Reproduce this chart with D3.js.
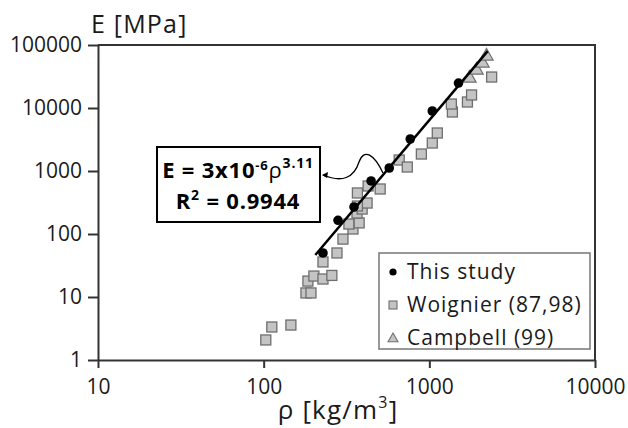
<!DOCTYPE html>
<html>
<head>
<meta charset="utf-8">
<script src="https://cdn.jsdelivr.net/npm/d3@7"></script>
<style>
  html, body { margin: 0; padding: 0; background: #fff; }
  svg { display: block; font-family: "Open Sans", "Liberation Sans", sans-serif; }
</style>
</head>
<body>
<svg id="chart" width="628" height="428"></svg>
<script>
// Young's modulus vs. density (log-log)
const thisStudyDensity = [228, 281, 351, 445, 573, 767, 1042, 1500];
const thisStudyModulus = [50, 165, 269, 695, 1116, 3220, 8960, 24900];

const woignierDensity = [103, 112, 146, 180, 193, 185, 201, 228, 258, 228, 277, 301,
  346, 327, 377, 366, 393, 421, 368, 368, 427, 505, 658, 736, 895, 1042, 1117, 1378, 1358, 1698, 1798, 2377];
const woignierModulus = [2.08, 3.34, 3.59, 11.6, 11.6, 17.9, 21.5, 19.3, 22, 36, 50, 83,
  120, 144, 150, 215, 249, 310, 278, 448, 578, 518, 1495, 1157, 1860, 2780, 4010, 8640, 11560, 12450, 16100, 31000];

const campbellDensity = [1748, 1928, 2094, 2214];
const campbellModulus = [31000, 41600, 53700, 69300];

// Power-law fit E = a * rho^b
const fitA = 3e-6, fitB = 3.11, fitR2 = 0.9944;
const fitRange = [205, 2250];

const xTicks = [10, 100, 1000, 10000];
const yTicks = [1, 10, 100, 1000, 10000, 100000];

const legendLabels = ["This study", "Woignier (87,98)", "Campbell (99)"];

const svg = d3.select("#chart");
const plot = { left: 98, right: 595, top: 45, bottom: 360 };

const x = d3.scaleLog().domain([10, 10000]).range([plot.left, plot.right]);
const y = d3.scaleLog().domain([1, 100000]).range([plot.bottom, plot.top]);

const axisColor = "#333";
const textColor = "#1a1a1a";

// frame (top and right edges)
svg.append("path")
  .attr("d", `M${plot.left},${plot.top}H${plot.right}V${plot.bottom}`)
  .attr("fill", "none").attr("stroke", axisColor).attr("stroke-width", 2);

// axes
const yAxis = svg.append("g")
  .attr("transform", `translate(${plot.left},0)`)
  .call(d3.axisLeft(y).tickValues(yTicks).tickFormat(d3.format("d")).tickSize(10).tickPadding(6).tickSizeOuter(0));
const xAxis = svg.append("g")
  .attr("transform", `translate(0,${plot.bottom})`)
  .call(d3.axisBottom(x).tickValues(xTicks).tickFormat(d3.format("d")).tickSize(8).tickPadding(11).tickSizeOuter(0));

[xAxis, yAxis].forEach(g => {
  g.select(".domain").attr("stroke", axisColor).attr("stroke-width", 2);
  g.selectAll(".tick line").attr("stroke", axisColor).attr("stroke-width", 2);
  g.selectAll(".tick text").attr("fill", textColor)
    .style("font-family", "\"Open Sans\", sans-serif").style("font-size", "21px");
});

// axis titles
svg.append("text").attr("x", 91).attr("y", 33)
  .attr("fill", textColor).style("font-size", "25px").style("letter-spacing", "1.2px").text("E [MPa]");

const xt = svg.append("text").attr("x", 338).attr("y", 419).attr("text-anchor", "middle")
  .attr("fill", textColor).style("font-size", "26px").style("letter-spacing", "1.2px");
xt.append("tspan").text("ρ [kg/m");
xt.append("tspan").attr("dy", -11).style("font-size", "16px").text("3");
xt.append("tspan").attr("dy", 11).text("]");

// markers
const sqSize = 10, triSize = 12;
const markerFill = "#c4c4c4", markerStroke = "#6e6e6e";

svg.append("g").selectAll("rect")
  .data(woignierDensity.map((d, i) => [d, woignierModulus[i]]))
  .join("rect")
  .attr("x", d => x(d[0]) - sqSize / 2).attr("y", d => y(d[1]) - sqSize / 2)
  .attr("width", sqSize).attr("height", sqSize)
  .attr("fill", markerFill).attr("stroke", markerStroke).attr("stroke-width", 1.3);

const triPath = s => `M0,${-s * 0.55}L${s * 0.55},${s * 0.42}L${-s * 0.55},${s * 0.42}Z`;
svg.append("g").selectAll("path")
  .data(campbellDensity.map((d, i) => [d, campbellModulus[i]]))
  .join("path")
  .attr("transform", d => `translate(${x(d[0])},${y(d[1])})`)
  .attr("d", triPath(triSize))
  .attr("fill", markerFill).attr("stroke", markerStroke).attr("stroke-width", 1.2);

// fit line
const fitLine = d3.line().x(d => x(d)).y(d => y(fitA * Math.pow(d, fitB)));
svg.append("path").attr("d", fitLine(fitRange))
  .attr("fill", "none").attr("stroke", "#000").attr("stroke-width", 2.5);

svg.append("g").selectAll("circle")
  .data(thisStudyDensity.map((d, i) => [d, thisStudyModulus[i]]))
  .join("circle")
  .attr("cx", d => x(d[0])).attr("cy", d => y(d[1])).attr("r", 4.8)
  .attr("fill", "#000");

// equation box
svg.append("rect").attr("x", 157).attr("y", 147).attr("width", 163).attr("height", 75)
  .attr("fill", "#fff").attr("stroke", "#000").attr("stroke-width", 2);

const eq = svg.append("text").attr("x", 238).attr("y", 178).attr("text-anchor", "middle")
  .attr("fill", "#000").style("font-weight", "bold").style("font-size", "22px").style("letter-spacing", "0.8px");
eq.append("tspan").text("E = 3x10");
eq.append("tspan").attr("dy", -8).style("font-size", "13px").text("-" + Math.round(-Math.log10(fitA)));
eq.append("tspan").attr("dy", 8).style("font-weight", "normal").text("ρ");
eq.append("tspan").attr("dy", -10).style("font-size", "14px").text(fitB.toFixed(2));

const r2 = svg.append("text").attr("x", 238).attr("y", 209).attr("text-anchor", "middle")
  .attr("fill", "#000").style("font-weight", "bold").style("font-size", "22px").style("letter-spacing", "0.8px");
r2.append("tspan").text("R");
r2.append("tspan").attr("dy", -9).style("font-size", "14px").text("2");
r2.append("tspan").attr("dy", 9).text(" = " + fitR2.toFixed(4));

// connector from fit line to the equation box
svg.append("path")
  .attr("d", "M383,173C374,154 364,148 359,162C354,178 342,183 323,175")
  .attr("fill", "none").attr("stroke", "#000").attr("stroke-width", 1.3);
svg.append("path").attr("d", "M322,175L328,172L327,178Z").attr("fill", "#000");

// legend
const lg = svg.append("g");
lg.append("rect").attr("x", 379).attr("y", 253).attr("width", 211).attr("height", 96)
  .attr("fill", "#fff").attr("stroke", "#777").attr("stroke-width", 1.5);
const rowY = [272, 305, 338];
lg.append("circle").attr("cx", 393).attr("cy", rowY[0]).attr("r", 3.6).attr("fill", "#000");
lg.append("rect").attr("x", 389).attr("y", rowY[1] - 4).attr("width", 8).attr("height", 8)
  .attr("fill", markerFill).attr("stroke", markerStroke).attr("stroke-width", 1.1);
lg.append("path").attr("transform", `translate(393,${rowY[2]})`).attr("d", triPath(9))
  .attr("fill", markerFill).attr("stroke", markerStroke).attr("stroke-width", 1.1);
lg.selectAll("text.lbl").data(legendLabels).join("text").attr("class", "lbl")
  .attr("x", 407).attr("y", (d, i) => rowY[i] + 7)
  .attr("fill", textColor).style("font-size", "21px").style("letter-spacing", "1px").text(d => d);
</script>
</body>
</html>
